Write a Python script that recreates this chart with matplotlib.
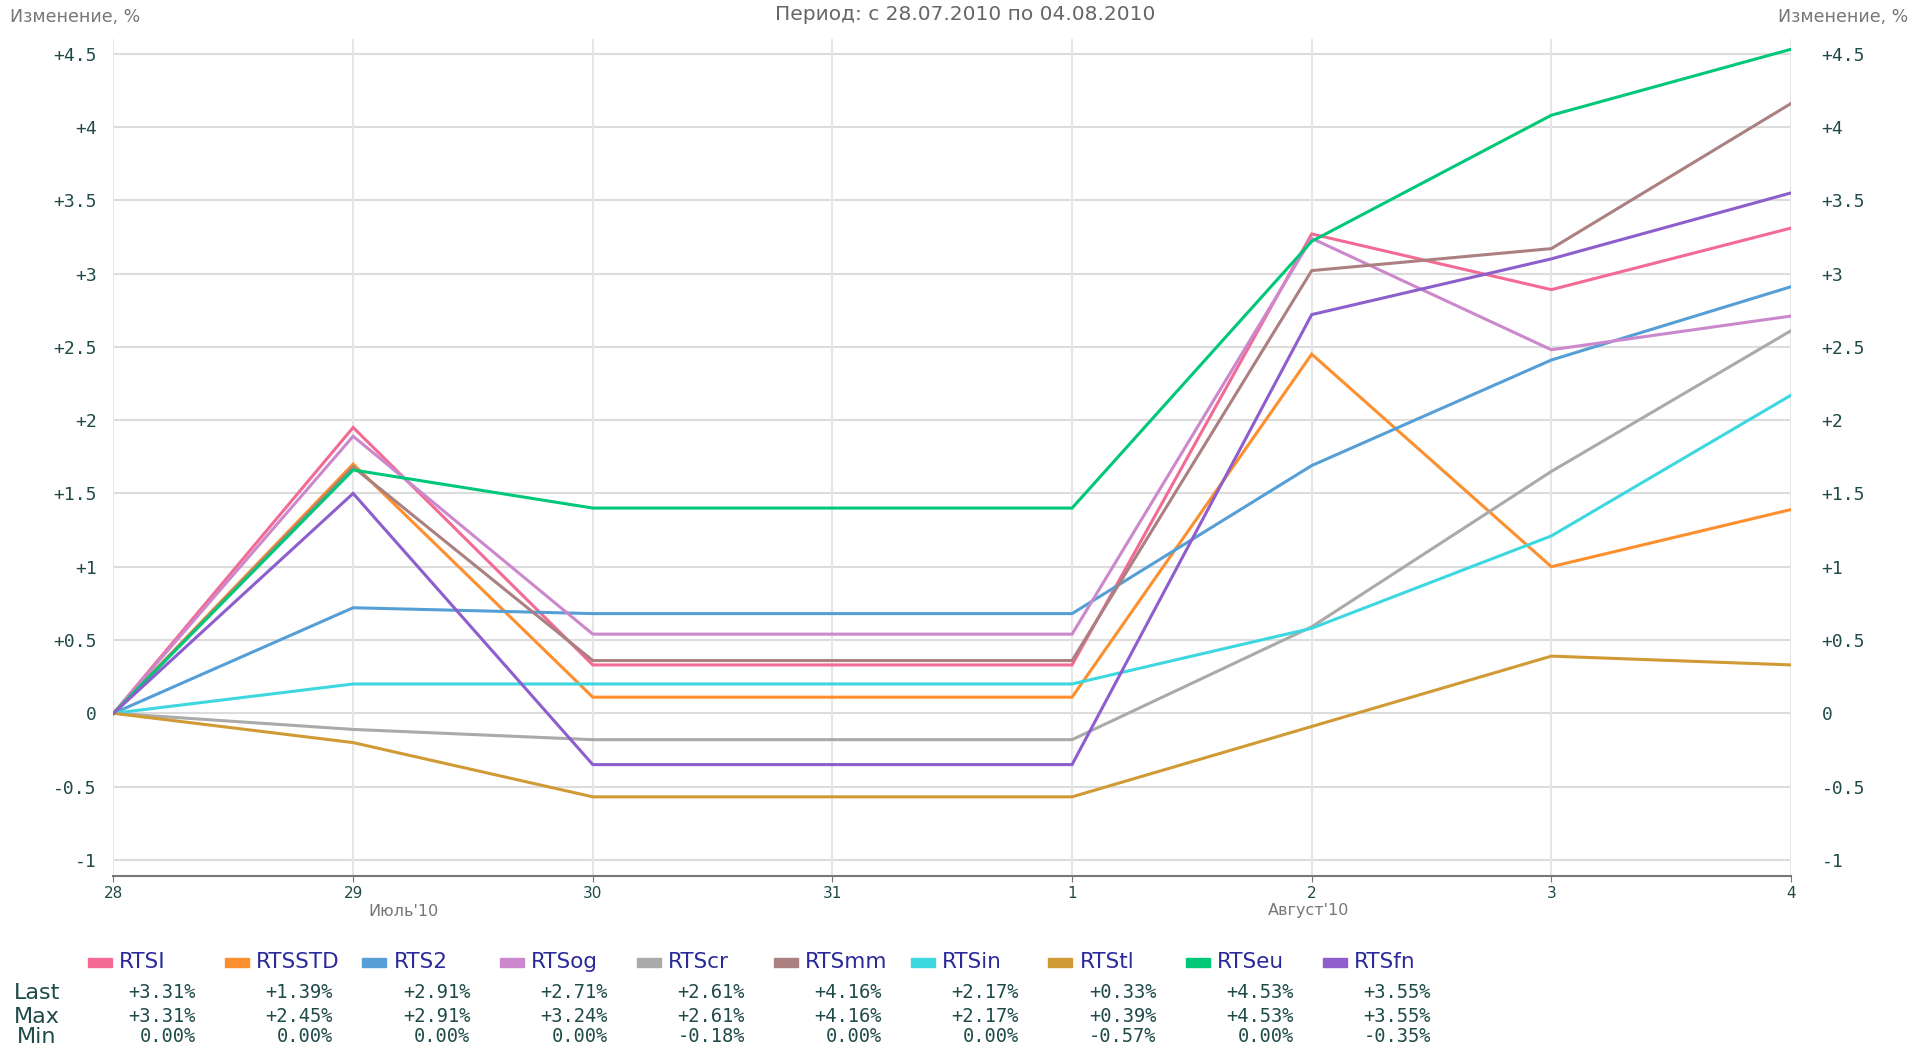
import matplotlib
matplotlib.use("Agg")
import matplotlib.pyplot as plt

days = ["28", "29", "30", "31", "1", "2", "3", "4"]
months = ["Июль'10", "Август'10"]
month_pos = [1, 5]
names = ["RTSI", "RTSSTD", "RTS2", "RTSog", "RTScr", "RTSmm", "RTSin", "RTStl", "RTSeu", "RTSfn"]
RTSI = [0, 1.95, 0.33, 0.33, 0.33, 3.27, 2.89, 3.31]
RTSSTD = [0, 1.70, 0.11, 0.11, 0.11, 2.45, 1.00, 1.39]
RTS2 = [0, 0.72, 0.68, 0.68, 0.68, 1.69, 2.41, 2.91]
RTSog = [0, 1.89, 0.54, 0.54, 0.54, 3.24, 2.48, 2.71]
RTScr = [0, -0.11, -0.18, -0.18, -0.18, 0.59, 1.65, 2.61]
RTSmm = [0, 1.68, 0.36, 0.36, 0.36, 3.02, 3.17, 4.16]
RTSin = [0, 0.20, 0.20, 0.20, 0.20, 0.58, 1.21, 2.17]
RTStl = [0, -0.20, -0.57, -0.57, -0.57, -0.09, 0.39, 0.33]
RTSeu = [0, 1.66, 1.40, 1.40, 1.40, 3.22, 4.08, 4.53]
RTSfn = [0, 1.50, -0.35, -0.35, -0.35, 2.72, 3.10, 3.55]
series = [RTSI, RTSSTD, RTS2, RTSog, RTScr, RTSmm, RTSin, RTStl, RTSeu, RTSfn]
colors = ["#f36b94", "#fd8f2f", "#559fd6", "#cc88cc", "#aaaaaa", "#aa8080",
          "#3dd7e0", "#d09a35", "#00c878", "#8e5ecc"]
last_vals = ["+3.31%", "+1.39%", "+2.91%", "+2.71%", "+2.61%", "+4.16%", "+2.17%", "+0.33%", "+4.53%", "+3.55%"]
max_vals = ["+3.31%", "+2.45%", "+2.91%", "+3.24%", "+2.61%", "+4.16%", "+2.17%", "+0.39%", "+4.53%", "+3.55%"]
min_vals = ["0.00%", "0.00%", "0.00%", "0.00%", "-0.18%", "0.00%", "0.00%", "-0.57%", "0.00%", "-0.35%"]
yticks = [-1, -0.5, 0, 0.5, 1, 1.5, 2, 2.5, 3, 3.5, 4, 4.5]
ytick_labels = ["-1", "-0.5", "0", "+0.5", "+1", "+1.5", "+2", "+2.5", "+3", "+3.5", "+4", "+4.5"]

W, H = 1915, 1045
fig = plt.figure(figsize=(W / 100, H / 100), dpi=100)
fig.patch.set_facecolor("white")
ax = fig.add_axes([113.5 / W, 1 - 876 / H, (1791 - 113.5) / W, (876 - 39) / H])
ax.set_facecolor("white")
x = list(range(len(days)))
for yv in yticks:
    ax.axhline(yv, color="#dcdcdc", lw=1.5, zorder=1)
for xv in x:
    ax.axvline(xv, color="#e6e6e6", lw=1.5, zorder=1)
for s, c in zip(series, colors):
    ax.plot(x, s, color=c, lw=2.2, zorder=3, solid_joinstyle="miter")
ax.set_xlim(0, 7)
ax.set_ylim(-1.11, 4.6)
for sp in ["top", "left", "right"]:
    ax.spines[sp].set_visible(False)
ax.spines["bottom"].set_color("#777777")
ax.spines["bottom"].set_linewidth(1.5)
ax.set_xticks(x)
ax.set_xticklabels(days, fontsize=11, color="#1e4a48", family="DejaVu Sans")
ax.tick_params(axis="x", length=4, color="#777777", pad=3)
ax.set_yticks(yticks)
ax.set_yticklabels(ytick_labels, fontsize=13, color="#1e4a48", family="DejaVu Sans Mono")
ax.tick_params(axis="y", length=0, pad=12)
ax2 = ax.twinx()
ax2.set_ylim(ax.get_ylim())
ax2.set_yticks(yticks)
ax2.set_yticklabels(ytick_labels, fontsize=13, color="#1e4a48", family="DejaVu Sans Mono")
ax2.tick_params(axis="y", length=0, pad=22)
for sp in ax2.spines.values():
    sp.set_visible(False)
for lab in ax2.get_yticklabels():
    lab.set_horizontalalignment("left")

month_offsets = [50, -3]
for m, p, off in zip(months, month_pos, month_offsets):
    ax.annotate(m, xy=(p, 0), xycoords=("data", "axes fraction"), xytext=(off, -35),
                textcoords="offset pixels", ha="center", va="center",
                fontsize=11.5, color="#777777")

fig.text(965 / W, 1 - 15 / H, "Период: с 28.07.2010 по 04.08.2010", ha="center", va="center",
         fontsize=14.5, color="#666666")
fig.text(10 / W, 1 - 17 / H, "Изменение, %", ha="left", va="center", fontsize=12.5, color="#777777")
fig.text(1908 / W, 1 - 17 / H, "Изменение, %", ha="right", va="center", fontsize=12.5, color="#777777")

step = 137.2
for i, (n, c) in enumerate(zip(names, colors)):
    px = 88 + i * step
    fig.patches.append(plt.Rectangle((px / W, 1 - 967 / H), 24 / W, 9 / H,
                                     transform=fig.transFigure, color=c, figure=fig))
    fig.text((px + 31) / W, 1 - 962 / H, n, ha="left", va="center", fontsize=15.5, color="#2a2a9a")
    rx = (196 + i * step) / W
    fig.text(rx, 1 - 993 / H, last_vals[i], ha="right", va="center", fontsize=13.5, color="#1e4a48",
             family="DejaVu Sans Mono")
    fig.text(rx, 1 - 1017 / H, max_vals[i], ha="right", va="center", fontsize=13.5, color="#1e4a48",
             family="DejaVu Sans Mono")
    fig.text(rx, 1 - 1037 / H, min_vals[i], ha="right", va="center", fontsize=13.5, color="#1e4a48",
             family="DejaVu Sans Mono")
for lbl, yy in zip(["Last", "Max", "Min"], [993, 1017, 1037]):
    fig.text(37 / W, 1 - yy / H, lbl, ha="center", va="center", fontsize=16, color="#1e4a48")

fig.savefig("out.png", dpi=100, facecolor="white")
